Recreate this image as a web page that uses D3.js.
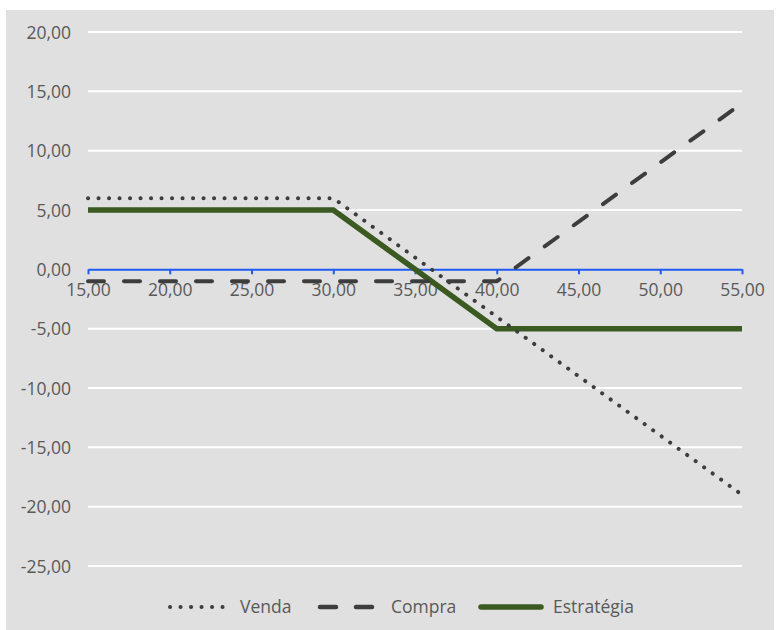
<!DOCTYPE html>
<html>
<head>
<meta charset="utf-8">
<script src="https://cdn.jsdelivr.net/npm/d3@7"></script>
<style>
html,body{margin:0;padding:0;background:#fff;}
svg{display:block;}
text{font-family:"Open Sans",sans-serif;fill:#595959;}
</style>
</head>
<body>
<svg id="chart" width="777" height="630"></svg>
<script>
const prices = [15, 20, 25, 30, 35, 40, 45, 50, 55];
const venda = [6, 6, 6, 6, 1, -4, -9, -14, -19];
const compra = [-1, -1, -1, -1, -1, -1, 4, 9, 14];
const estrategia = [5, 5, 5, 5, 0, -5, -5, -5, -5];
const yTicks = [20, 15, 10, 5, 0, -5, -10, -15, -20, -25];
const seriesNames = ["Venda", "Compra", "Estratégia"];

const svg = d3.select("#chart");
svg.append("rect").attr("x", 6).attr("y", 10).attr("width", 768).attr("height", 620).attr("fill", "#e0e0e0");

const x = d3.scaleLinear().domain([15, 55]).range([88, 742]);
const y = d3.scaleLinear().domain([-25, 20]).range([566, 32]);
const locale = d3.formatLocale({decimal: ",", thousands: ".", grouping: [3], currency: ["R$", ""], minus: "-"});
const fmt = locale.format(".2f");

// gridlines
svg.append("g").selectAll("line").data(yTicks.filter(d => d !== 0)).join("line")
  .attr("x1", x(15)).attr("x2", x(55))
  .attr("y1", d => y(d)).attr("y2", d => y(d))
  .attr("stroke", "#ffffff").attr("stroke-width", 2);

// y labels
const yAxis = d3.axisLeft(y).tickValues(yTicks).tickFormat(fmt).tickSize(0).tickPadding(0);
const gy = svg.append("g").attr("transform", "translate(71,0)").call(yAxis);
gy.select(".domain").remove();
gy.selectAll("text").style("font-size", "17.5px").attr("fill", "#595959").attr("dy", "0.35em");

// x axis at y=0
const xAxis = d3.axisBottom(x).tickValues(prices).tickFormat(fmt).tickSize(5).tickSizeOuter(0).tickPadding(9);
const gx = svg.append("g").attr("transform", `translate(0,${y(0)})`).call(xAxis);
gx.select(".domain").attr("stroke", "#1f5bf0").attr("stroke-width", 2);
gx.selectAll(".tick line").attr("stroke", "#1f5bf0").attr("stroke-width", 2);
gx.selectAll("text").style("font-size", "17.5px").attr("fill", "#595959");

const line = d3.line().x((d, i) => x(prices[i])).y(d => y(d));

svg.append("path").datum(estrategia).attr("d", line)
  .attr("fill", "none").attr("stroke", "#3a5a22").attr("stroke-width", 5.5);
svg.append("path").datum(compra).attr("d", line)
  .attr("fill", "none").attr("stroke", "#3d3d3d").attr("stroke-width", 4)
  .attr("stroke-linecap", "round").attr("stroke-dasharray", "16,20");
svg.append("path").datum(venda).attr("d", line)
  .attr("fill", "none").attr("stroke", "#3d3d3d").attr("stroke-width", 4)
  .attr("stroke-linecap", "round").attr("stroke-dasharray", "0.1,10.4");

// legend
const legend = [
  {name: seriesNames[0], x1: 170, x2: 224, tx: 240, color: "#3d3d3d", w: 4, dash: "0.1,10.4", cap: "round"},
  {name: seriesNames[1], x1: 320, x2: 376, tx: 391, color: "#3d3d3d", w: 4.5, dash: "16,20", cap: "round"},
  {name: seriesNames[2], x1: 481, x2: 541, tx: 553, color: "#3a5a22", w: 5.5, dash: null, cap: "round"}
];
const lg = svg.append("g");
legend.forEach(l => {
  lg.append("line").attr("x1", l.x1).attr("x2", l.x2).attr("y1", 607).attr("y2", 607)
    .attr("stroke", l.color).attr("stroke-width", l.w).attr("stroke-linecap", l.cap)
    .attr("stroke-dasharray", l.dash);
  lg.append("text").attr("x", l.tx).attr("y", 607).attr("dy", "0.35em")
    .style("font-size", "17.5px").text(l.name);
});
</script>
</body>
</html>
